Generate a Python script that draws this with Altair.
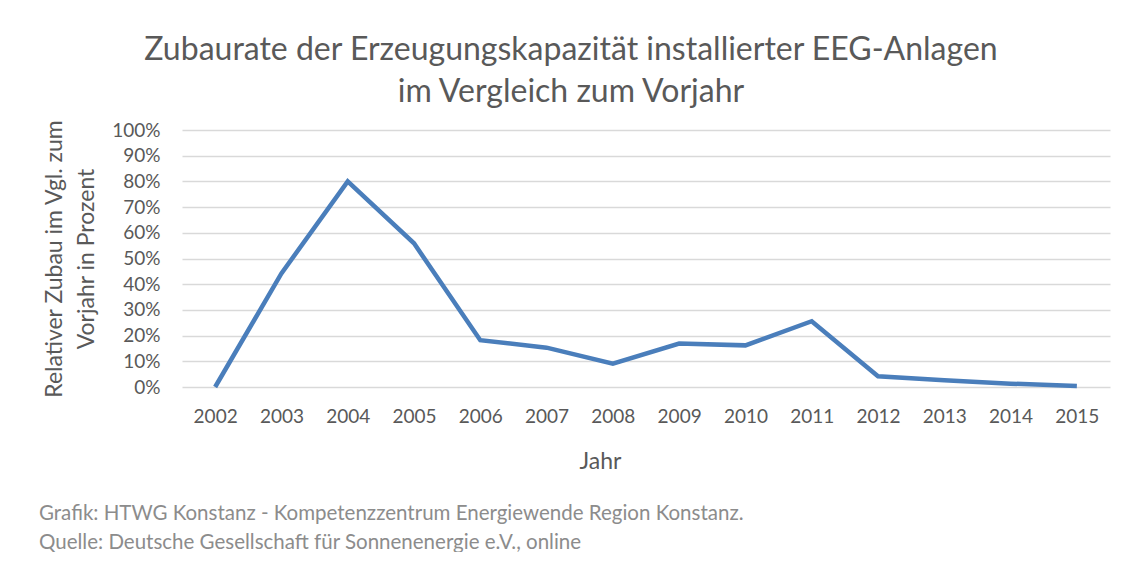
import altair as alt
import pandas as pd

years = ["2002", "2003", "2004", "2005", "2006", "2007", "2008",
         "2009", "2010", "2011", "2012", "2013", "2014", "2015"]
rates = [0.0, 0.442, 0.80, 0.559, 0.182, 0.153, 0.091,
         0.169, 0.162, 0.256, 0.042, 0.026, 0.013, 0.004]

title_lines = ["Zubaurate der Erzeugungskapazität installierter EEG-Anlagen",
               "im Vergleich zum Vorjahr"]
y_title = ["Relativer Zubau im Vgl. zum", "Vorjahr in Prozent"]
x_title = "Jahr"
footer_lines = ["Grafik: HTWG Konstanz - Kompetenzzentrum Energiewende Region Konstanz.",
                "Quelle: Deutsche Gesellschaft für Sonnenenergie e.V., online"]

FONT = "Lato"
TXT = "#595959"

df = pd.DataFrame({"Jahr": years, "Rate": rates})

line = alt.Chart(df).mark_line(color="#4a7ebb", strokeWidth=4.5).encode(
    x=alt.X("Jahr:O", sort=years,
            axis=alt.Axis(title=x_title, labelAngle=0, ticks=False, domain=False,
                          grid=False, labelFontSize=19, labelColor=TXT, labelFont=FONT,
                          labelPadding=20, titleFontSize=23, titleColor=TXT,
                          titleFont=FONT, titleFontWeight="normal",
                          titleX=418, titleY=81, titleBaseline="alphabetic")),
    y=alt.Y("Rate:Q", scale=alt.Scale(domain=[0, 1], nice=False),
            axis=alt.Axis(title=y_title, format=".0%", values=[i / 10 for i in range(11)],
                          ticks=False, domain=False, grid=True, gridColor="#d9d9d9",
                          gridWidth=1.5, labelFontSize=19, labelColor=TXT,
                          labelFont=FONT, labelPadding=22, titleFontSize=23,
                          titleColor=TXT, titleFont=FONT, titleFontWeight="normal",
                          titleAngle=-90, titleX=-128, titleY=128.5,
                          titleAlign="center", titleBaseline="middle",
                          titleLineHeight=32)),
)

fdf = pd.DataFrame({"t": footer_lines, "i": [0, 1]})
footer = alt.Chart(fdf).mark_text(align="left", baseline="alphabetic", font=FONT,
                                  fontSize=20.5, color="#8c8c8c").encode(
    text="t:N",
    x=alt.value(-143),
    y=alt.Y("i:Q", scale=alt.Scale(domain=[0, 1], range=[390, 419]), axis=None),
)

chart = alt.layer(line, footer).resolve_scale(y="independent").properties(
    width=928, height=257,
    autosize=alt.AutoSizeParams(type="none"),
    padding={"left": 174, "top": 122, "right": 7, "bottom": 165},
    title=alt.TitleParams(text=title_lines, fontSize=32, font=FONT, color=TXT,
                          fontWeight="normal", anchor="middle", dx=-75,
                          offset=10, lineHeight=42),
).configure_view(stroke=None)

chart.save("out.html", embed_options={"renderer": "svg", "actions": False})
